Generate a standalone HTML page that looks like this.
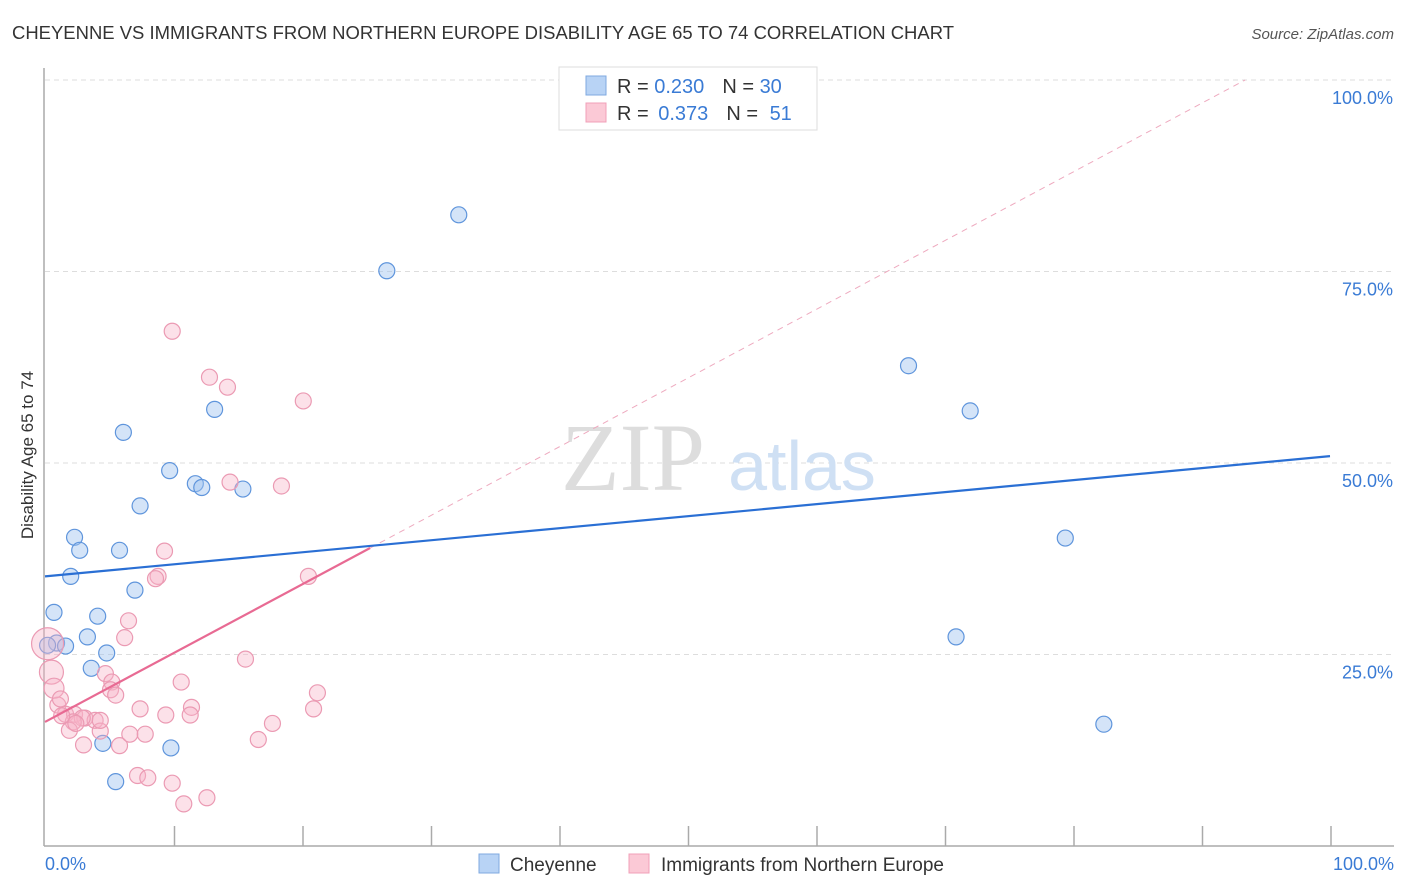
<!DOCTYPE html>
<html><head><meta charset="utf-8"><style>
body{margin:0;background:#fff;font-family:"Liberation Sans",sans-serif;}
svg{display:block}
</style></head><body>
<svg id="chart" width="1406" height="892">
<text x="12" y="39" font-size="18" fill="#333" textLength="942" lengthAdjust="spacingAndGlyphs">CHEYENNE VS IMMIGRANTS FROM NORTHERN EUROPE DISABILITY AGE 65 TO 74 CORRELATION CHART</text>
<text x="1394" y="39" font-size="15" fill="#555" font-style="italic" text-anchor="end">Source: ZipAtlas.com</text>
<g id="grid"></g>
<text x="633" y="490" font-size="96" fill="#ddd" font-family="Liberation Serif,serif" text-anchor="middle">ZIP</text>
<text x="802" y="490" font-size="70" fill="#cfe0f4" text-anchor="middle">atlas</text>
<g id="marks"></g>
<text x="33" y="455" font-size="17" fill="#333" text-anchor="middle" transform="rotate(-90 33 455)">Disability Age 65 to 74</text>
<text x="45" y="870" font-size="18" fill="#3a7bd5">0.0%</text>
<text x="1394" y="870" font-size="18" fill="#3a7bd5" text-anchor="end">100.0%</text>
<g>
<rect x="559" y="67" width="258" height="63" fill="#fff" stroke="#ddd"/>
<rect x="586" y="76" width="20" height="19" fill="#b8d3f5" stroke="#7fa9e0"/>
<rect x="586" y="103" width="20" height="19" fill="#fbc9d6" stroke="#f0a0b8"/>
<text x="617" y="93" font-size="20" fill="#333">R = <tspan fill="#3a7bd5">0.230</tspan><tspan dx="18">N = </tspan><tspan fill="#3a7bd5">30</tspan></text>
<text x="617" y="120" font-size="20" fill="#333">R = <tspan fill="#3a7bd5" dx="4">0.373</tspan><tspan dx="18">N = </tspan><tspan fill="#3a7bd5" dx="6">51</tspan></text>
</g>
<g>
<rect x="479" y="854" width="20" height="19" fill="#b8d3f5" stroke="#7fa9e0"/>
<text x="510" y="871" font-size="19" fill="#333">Cheyenne</text>
<rect x="629" y="854" width="20" height="19" fill="#fbc9d6" stroke="#f0a0b8"/>
<text x="661" y="871" font-size="19" fill="#333">Immigrants from Northern Europe</text>
</g>
</svg>
<script>
const yTicks=[25,50,75,100];
const yTickLabels=["25.0%","50.0%","75.0%","100.0%"];
const xTicks=[10,20,30,40,50,60,70,80,90,100];
const blueX=[32.2,26.6,67.2,72,13.2,6.1,9.7,11.7,12.2,15.4,7.4,2.3,2.7,5.8,2,7,0.7,4.1,3.3,0.9,1.6,4.8,3.6,4.5,9.8,5.5,70.9,79.4,82.4,0.2];
const blueY=[82.4,75.1,62.7,56.8,57,54,49,47.3,46.8,46.6,44.4,40.3,38.6,38.6,35.2,33.4,30.5,30,27.3,26.5,26.1,25.2,23.2,13.4,12.8,8.4,27.3,40.2,15.9,26.2];
const pinkX=[9.9,12.8,14.2,20.1,14.4,18.4,9.3,8.8,8.6,20.5,6.5,6.2,15.6,4.7,5.2,10.6,5.1,5.5,21.2,7.4,11.4,20.9,9.4,11.3,1,1.6,2.3,3.1,3.9,2.9,2.2,1.9,4.3,5.8,6.6,7.8,3,17.7,16.6,7.2,8,9.9,10.8,12.6,0.2,0.5,0.7,1.2,4.3,2.4,1.3];
const pinkY=[67.2,61.2,59.9,58.1,47.5,47,38.5,35.2,34.9,35.2,29.4,27.2,24.4,22.5,21.4,21.4,20.4,19.7,20,17.9,18.1,17.9,17.1,17.1,18.4,17.2,17.2,16.7,16.4,16.7,16.2,15.1,15,13.1,14.6,14.6,13.2,16,13.9,9.2,8.9,8.2,5.5,6.3,26.4,22.7,20.6,19.2,16.4,16,17];
const pinkR=[8,8,8,8,8,8,8,8,8,8,8,8,8,8,8,8,8,8,8,8,8,8,8,8,8,8,8,8,8,8,8,8,8,8,8,8,8,8,8,8,8,8,8,8,16,12,10,8,8,8,8];
const blueTrend=[35.2,50.9];
const pinkTrend=[16.2,38.9];
const pinkTrendEnd=25.3;
const X0=45,X1=1330,Y0=846,Y1=80;
const sx=v=>X0+(X1-X0)*v/100, sy=v=>Y0-(Y0-Y1)*v/100;
const NS="http://www.w3.org/2000/svg";
function mk(tag,attrs,parent){const e=document.createElementNS(NS,tag);for(const k in attrs)e.setAttribute(k,attrs[k]);parent.appendChild(e);return e;}
const grid=document.getElementById('grid'),marks=document.getElementById('marks');
let ax=mk('line',{x1:44,y1:68,x2:44,y2:846,stroke:'#aaa','stroke-width':1.5},grid);


let bx=mk('line',{x1:44,y1:846,x2:1394,y2:846,stroke:'#aaa','stroke-width':1.5},grid);


yTicks.forEach((t,i)=>{
 const g=mk('line',{x1:45,y1:sy(t),x2:1394,y2:sy(t),stroke:'#ddd','stroke-dasharray':'5,4'},grid);
 
 
 const l=mk('text',{x:1393,y:sy(t)+24,'font-size':18,fill:'#3a7bd5','text-anchor':'end'},grid);
 l.textContent=yTickLabels[i];
 
 
});
xTicks.forEach(t=>{
 const g=mk('line',{x1:sx(t)+1,y1:826,x2:sx(t)+1,y2:846,stroke:'#aaa','stroke-width':1.5},grid);
 
 
});
blueX.forEach((x,i)=>{
 const c=mk('circle',{cx:sx(x),cy:sy(blueY[i]),r:8,fill:'rgba(160,196,240,0.45)',stroke:'#5f95dc','stroke-width':1.2},marks);
 
 
});
pinkX.forEach((x,i)=>{
 const c=mk('circle',{cx:sx(x),cy:sy(pinkY[i]),r:pinkR[i],fill:'rgba(248,180,200,0.4)',stroke:'#eb9ab3','stroke-width':1.2},marks);
 
 
});
const slope=(pinkTrend[1]-pinkTrend[0])/pinkTrendEnd;
const xAt100=(100-pinkTrend[0])/slope;
let d=mk('line',{x1:sx(pinkTrendEnd),y1:sy(pinkTrend[1]),x2:sx(xAt100),y2:sy(100),stroke:'#eeaabf','stroke-dasharray':'6,5','stroke-width':1},marks);


let bt=mk('line',{x1:sx(0),y1:sy(blueTrend[0]),x2:sx(100),y2:sy(blueTrend[1]),stroke:'#2a6fd4','stroke-width':2.2},marks);


let pt=mk('line',{x1:sx(0),y1:sy(pinkTrend[0]),x2:sx(pinkTrendEnd),y2:sy(pinkTrend[1]),stroke:'#e86a93','stroke-width':2.2},marks);


</script>
</body></html>
